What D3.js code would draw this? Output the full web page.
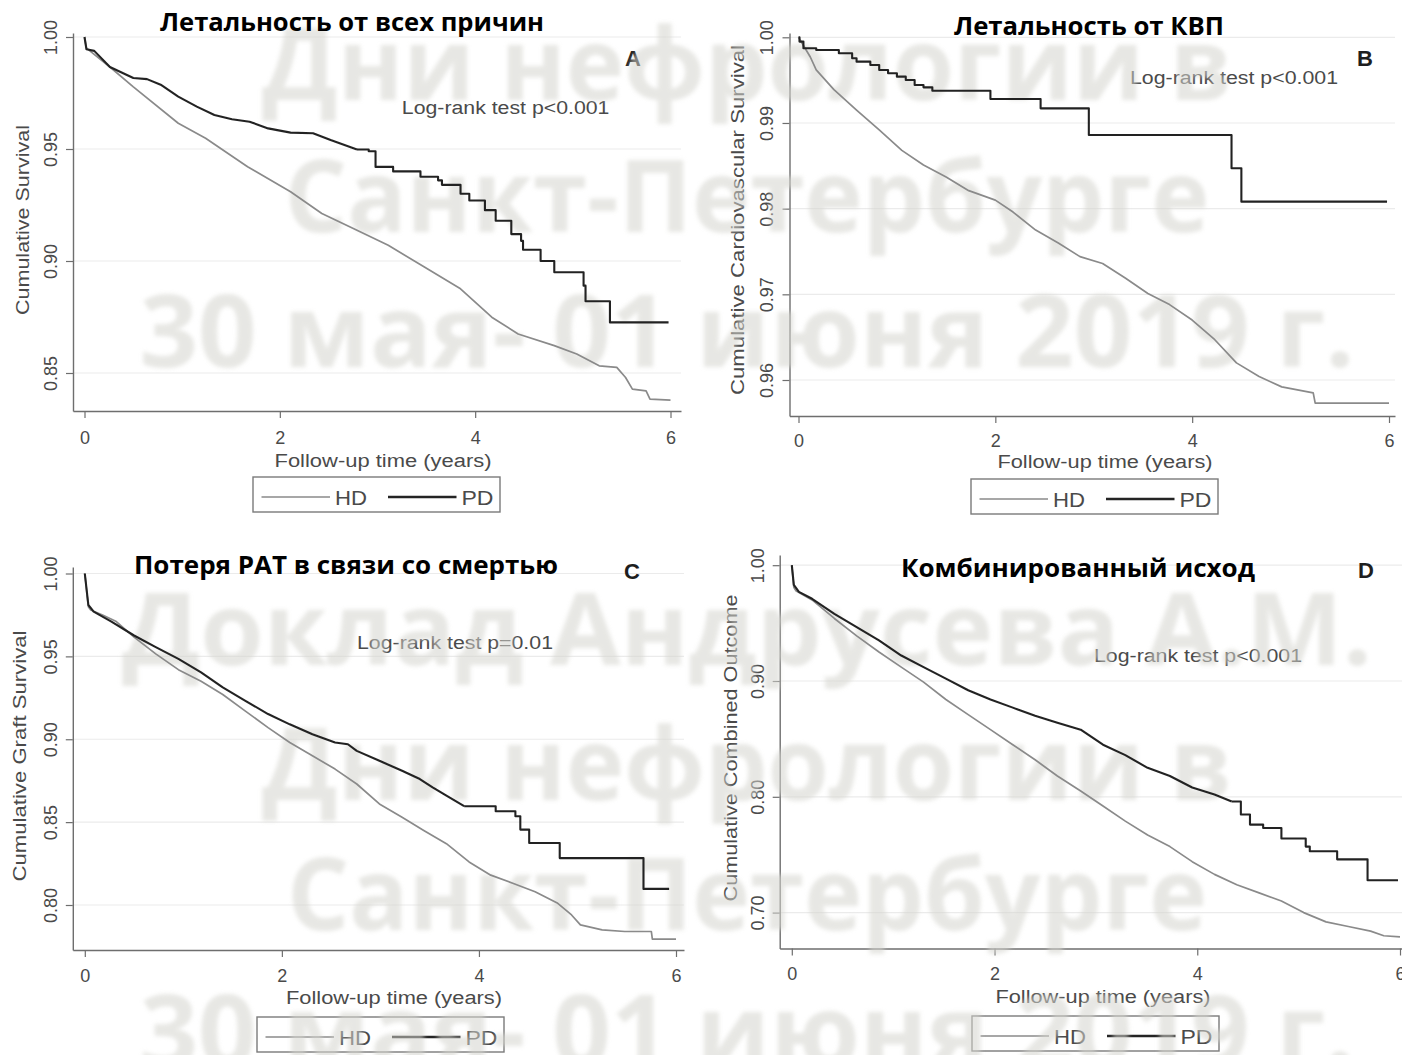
<!DOCTYPE html>
<html lang="ru">
<head>
  <meta charset="UTF-8" />
  <title>Kaplan-Meier HD vs PD</title>
  <style>
    body { margin: 0; background: #fff; }
    #container { width: 1402px; height: 1055px; overflow: hidden; }
    text { font-family: "Liberation Sans", Arial, sans-serif; }
  </style>
</head>
<body>
  <div id="container"></div>
  <script src="https://cdn.jsdelivr.net/npm/d3@7"></script>
  <script>
    // ---- data (years, cumulative survival) ----
    const xTicks = [0, 2, 4, 6];
    const yTicksA = [0.85, 0.90, 0.95, 1.00];
    const yTicksB = [0.96, 0.97, 0.98, 0.99, 1.00];
    const yTicksC = [0.80, 0.85, 0.90, 0.95, 1.00];
    const yTicksD = [0.70, 0.80, 0.90, 1.00];

    const hdA = [[0, 1], [0.02, 0.995], [0.26, 0.9866], [0.5, 0.9777], [0.96, 0.9615], [1.24, 0.9548],
      [1.67, 0.9421], [2.11, 0.9309], [2.43, 0.9212], [2.79, 0.9137], [3.11, 0.907], [3.48, 0.8973],
      [3.85, 0.8876], [4.17, 0.8749], [4.44, 0.8674], [4.81, 0.8622], [5.04, 0.8585], [5.27, 0.8532],
      [5.45, 0.8525], [5.54, 0.848], [5.61, 0.8428], [5.75, 0.842], [5.79, 0.8383], [6.0, 0.8379]];
    const pdA = [[0, 1], [0.02, 0.9945], [0.1, 0.9938], [0.26, 0.9866], [0.5, 0.9817], [0.64, 0.9812],
      [0.78, 0.9787], [0.96, 0.9734], [1.15, 0.9689], [1.33, 0.9652], [1.51, 0.9633], [1.69, 0.9622],
      [1.88, 0.9592], [2.11, 0.9573], [2.34, 0.957], [2.52, 0.954], [2.79, 0.9498]];
    const pdAsteps = [[2.79, 0.9498], [2.91, 0.949], [2.98, 0.942], [3.16, 0.94], [3.44, 0.9376],
      [3.62, 0.936], [3.66, 0.934], [3.85, 0.93], [3.94, 0.927], [4.1, 0.9227], [4.21, 0.918],
      [4.37, 0.912], [4.47, 0.909], [4.49, 0.905], [4.67, 0.9], [4.81, 0.895], [5.11, 0.889],
      [5.13, 0.882], [5.38, 0.8726], [5.98, 0.8726]];

    const hdB = [[0, 1], [0.12, 0.9977], [0.18, 0.9962], [0.36, 0.9939], [0.59, 0.9915], [0.82, 0.9892],
      [1.05, 0.9868], [1.27, 0.9851], [1.5, 0.9837], [1.73, 0.9821], [2.0, 0.981], [2.18, 0.9796],
      [2.41, 0.9775], [2.64, 0.976], [2.86, 0.9744], [3.09, 0.9736], [3.32, 0.9719], [3.55, 0.9701],
      [3.77, 0.9688], [4.0, 0.967], [4.23, 0.9647], [4.45, 0.962], [4.68, 0.9604], [4.91, 0.9592],
      [5.23, 0.9585], [5.25, 0.9573], [6.0, 0.9573]];
    const pdB = [];
    const pdBsteps = [[0, 1], [0.01, 0.9995], [0.05, 0.99872], [0.18, 0.99852], [0.41, 0.99813],
      [0.545, 0.99755], [0.59, 0.99716], [0.73, 0.99677], [0.82, 0.99619], [0.91, 0.9958],
      [1.0, 0.99541], [1.09, 0.99502], [1.18, 0.99444], [1.27, 0.99416], [1.36, 0.99377],
      [1.95, 0.9928], [2.46, 0.99171], [2.95, 0.9886], [4.4, 0.98471], [4.5, 0.98082], [5.98, 0.98082]];

    const hdC = [[0, 1], [0.036, 0.98], [0.06, 0.978], [0.18, 0.975], [0.32, 0.971], [0.5, 0.9616],
      [0.72, 0.9515], [0.95, 0.942], [1.18, 0.935], [1.4, 0.927], [1.63, 0.917], [1.86, 0.907],
      [2.08, 0.898], [2.31, 0.89], [2.54, 0.882], [2.76, 0.873], [2.99, 0.861], [3.22, 0.853],
      [3.44, 0.845], [3.67, 0.837], [3.9, 0.826], [4.12, 0.818], [4.35, 0.813], [4.57, 0.808],
      [4.8, 0.801], [4.94, 0.794], [5.03, 0.788], [5.25, 0.785], [5.48, 0.784], [5.75, 0.784],
      [5.76, 0.7794], [6.0, 0.7794]];
    const pdC = [[0, 1], [0.036, 0.981], [0.09, 0.977], [0.27, 0.971], [0.5, 0.9626], [0.72, 0.9556],
      [0.95, 0.9485], [1.18, 0.9404], [1.4, 0.9313], [1.63, 0.9232], [1.86, 0.9152], [2.08, 0.909],
      [2.31, 0.903], [2.54, 0.898], [2.67, 0.897], [2.76, 0.893], [2.99, 0.887], [3.22, 0.881],
      [3.4, 0.876], [3.53, 0.871], [3.67, 0.866], [3.85, 0.8596]];
    const pdCsteps = [[3.85, 0.8596], [4.17, 0.8566], [4.37, 0.8535], [4.42, 0.8455], [4.51, 0.8374],
      [4.82, 0.8283], [5.67, 0.8097], [5.93, 0.8097]];

    const hdD = [[0, 1], [0.02, 0.981], [0.04, 0.978], [0.2, 0.97], [0.42, 0.954], [0.64, 0.939],
      [0.86, 0.925], [1.08, 0.912], [1.3, 0.899], [1.52, 0.884], [1.74, 0.871], [1.96, 0.858],
      [2.18, 0.845], [2.4, 0.832], [2.62, 0.818], [2.85, 0.805], [3.07, 0.792], [3.29, 0.779],
      [3.51, 0.767], [3.73, 0.757], [3.95, 0.744], [4.17, 0.733], [4.39, 0.724], [4.61, 0.717],
      [4.83, 0.71], [5.05, 0.7], [5.27, 0.692], [5.49, 0.688], [5.71, 0.684], [5.84, 0.68], [6.0, 0.679]];
    const pdD = [[0, 1], [0.02, 0.983], [0.07, 0.977], [0.2, 0.971], [0.42, 0.958], [0.64, 0.9465],
      [0.86, 0.935], [1.08, 0.922], [1.3, 0.912], [1.52, 0.902], [1.74, 0.892], [1.96, 0.884],
      [2.18, 0.877], [2.4, 0.87], [2.62, 0.864], [2.85, 0.858], [3.07, 0.845], [3.29, 0.836],
      [3.51, 0.825], [3.73, 0.818], [3.95, 0.808], [4.17, 0.802], [4.34, 0.796]];
    const pdDsteps = [[4.34, 0.796], [4.43, 0.7847], [4.52, 0.776], [4.65, 0.773], [4.83, 0.764],
      [5.07, 0.757], [5.11, 0.753], [5.38, 0.746], [5.68, 0.728], [5.98, 0.728]];

    const titles = ["Летальность от всех причин", "Летальность от КВП",
      "Потеря РАТ в связи со смертью", "Комбинированный исход"];
    const letters = ["A", "B", "C", "D"];
    const yTitles = ["Cumulative Survival", "Cumulative Cardiovascular Survival",
      "Cumulative Graft Survival", "Cumulative Combined Outcome"];
    const logRank = ["Log-rank test p<0.001", "Log-rank test p<0.001",
      "Log-rank test p=0.01", "Log-rank test p<0.001"];
    const seriesNames = ["HD", "PD"];
    const watermark = ["Дни нефрологии в", "Санкт-Петербурге", "30 мая- 01 июня 2019 г.",
      "Доклад Андрусева А.М.", "Дни нефрологии в", "Санкт-Петербурге", "30 мая- 01 июня 2019 г."];

    const series = [
      { yTicks: yTicksA, hd: hdA, pd: pdA, pdSteps: pdAsteps },
      { yTicks: yTicksB, hd: hdB, pd: pdB, pdSteps: pdBsteps },
      { yTicks: yTicksC, hd: hdC, pd: pdC, pdSteps: pdCsteps },
      { yTicks: yTicksD, hd: hdD, pd: pdD, pdSteps: pdDsteps }
    ];

    // ---- layout (pixels) ----
    const layouts = [
      { x: [84.5, 670.5], yDom: [0.85, 1.00], yRng: [373, 37], left: 73, right: 681, top: 33, bottom: 411,
        xLabY: 444, xTitle: [383, 467, 217], yLabX: 51, yTitle: [23, 220, 190], title: [352, 31, 384],
        letter: [633, 66], logrank: [505.6, 114, 207.6], legend: [253, 477] },
      { x: [798.5, 1389], yDom: [0.96, 1.00], yRng: [380, 37.3], left: 789.5, right: 1395, top: 33, bottom: 416,
        xLabY: 447, xTitle: [1105, 468, 215], yLabX: 767, yTitle: [738, 220, 350], title: [1089, 35, 270],
        letter: [1365, 66], logrank: [1234, 84, 208], legend: [971, 479] },
      { x: [84.8, 676], yDom: [0.80, 1.00], yRng: [905, 573.5], left: 72.8, right: 684, top: 567, bottom: 950,
        xLabY: 982, xTitle: [394, 1004, 216], yLabX: 51, yTitle: [20, 756, 251], title: [346, 574, 424],
        letter: [632, 579], logrank: [455, 649, 196], legend: [257, 1017] },
      { x: [791.8, 1400], yDom: [0.70, 1.00], yRng: [912.6, 565.2], left: 779.7, right: 1410, top: 555, bottom: 948.5,
        xLabY: 980, xTitle: [1103, 1003, 215], yLabX: 758, yTitle: [731, 748, 307], title: [1078, 577, 354],
        letter: [1366, 578], logrank: [1198, 662, 208], legend: [972, 1016] }
    ];
    const wmLayout = [[100, 970], [232, 925], [367, 1215], [665, 1250], [800, 970], [930, 920], [1067, 1215]];

    const hdColor = "#8a8a8a", pdColor = "#242424", axisColor = "#6e6e6e", textColor = "#4a4a4a";

    const svg = d3.select("#container").append("svg")
      .attr("width", 1402).attr("height", 1055);
    const defs = svg.append("defs");
    defs.append("filter").attr("id", "soft")
      .append("feGaussianBlur").attr("stdDeviation", 2);
    defs.append("filter").attr("id", "jpeg")
      .append("feGaussianBlur").attr("stdDeviation", 0.35);

    const base = svg.append("g");
    const wm = svg.append("g");
    const curves = svg.append("g").attr("filter", "url(#jpeg)");
    const heads = svg.append("g");

    series.forEach((p, i) => {
      const L = layouts[i];
      const x = d3.scaleLinear().domain([0, 6]).range(L.x);
      const y = d3.scaleLinear().domain(L.yDom).range(L.yRng);
      const g = base.append("g");

      // grid
      g.selectAll(".grid").data(p.yTicks).enter().append("line")
        .attr("x1", L.left).attr("x2", L.right)
        .attr("y1", d => y(d)).attr("y2", d => y(d))
        .attr("stroke", "#ebebeb").attr("stroke-width", 1.2);

      // axes over the full plot region
      const xa = x.copy().domain([x.invert(L.left), x.invert(L.right)]).range([L.left, L.right]);
      const ya = y.copy().domain([y.invert(L.bottom), y.invert(L.top)]).range([L.bottom, L.top]);

      const gx = g.append("g").attr("transform", `translate(0,${L.bottom})`)
        .call(d3.axisBottom(xa).tickValues(xTicks).tickSize(7).tickSizeOuter(0).tickFormat(d3.format("d")));
      const gy = g.append("g").attr("transform", `translate(${L.left},0)`)
        .call(d3.axisLeft(ya).tickValues(p.yTicks).tickSize(7).tickSizeOuter(0).tickFormat(d3.format(".2f")));

      [gx, gy].forEach(a => {
        a.attr("font-family", null).attr("font-size", null).attr("color", axisColor);
        a.select(".domain").attr("stroke-width", 1.4);
        a.selectAll(".tick line").attr("stroke-width", 1.2);
        a.selectAll("text").attr("fill", textColor).style("font-size", "18px");
      });
      gx.selectAll("text").attr("y", L.xLabY - L.bottom).attr("dy", 0);
      gy.selectAll("text").attr("x", 0).attr("dy", "0.35em").attr("text-anchor", "middle")
        .attr("transform", `translate(${L.yLabX - L.left},0) rotate(-90)`);

      // axis titles
      g.append("text").attr("x", L.xTitle[0]).attr("y", L.xTitle[1])
        .attr("text-anchor", "middle").attr("fill", textColor).style("font-size", "18px")
        .attr("textLength", L.xTitle[2]).attr("lengthAdjust", "spacingAndGlyphs")
        .text("Follow-up time (years)");
      g.append("text").attr("transform", `translate(${L.yTitle[0]},${L.yTitle[1]}) rotate(-90)`)
        .attr("dy", "0.35em").attr("text-anchor", "middle").attr("fill", textColor).style("font-size", "18px")
        .attr("textLength", L.yTitle[2]).attr("lengthAdjust", "spacingAndGlyphs")
        .text(yTitles[i]);

      // annotation and panel letter
      g.append("text").attr("x", L.logrank[0]).attr("y", L.logrank[1])
        .attr("text-anchor", "middle").attr("fill", textColor).style("font-size", "18px")
        .attr("textLength", L.logrank[2]).attr("lengthAdjust", "spacingAndGlyphs")
        .text(logRank[i]);
      g.append("text").attr("x", L.letter[0]).attr("y", L.letter[1])
        .attr("text-anchor", "middle").attr("fill", "#1e1e1e")
        .style("font-size", "22px").style("font-weight", "bold")
        .text(letters[i]);

      // legend
      const lg = g.append("g").attr("transform", `translate(${L.legend[0]},${L.legend[1]})`);
      lg.append("rect").attr("width", 247).attr("height", 35)
        .attr("fill", "#fff").attr("stroke", "#7a7a7a").attr("stroke-width", 1.4);
      seriesNames.forEach((name, k) => {
        lg.append("line").attr("x1", 8.5 + k * 126.5).attr("x2", 77 + k * 126.5)
          .attr("y1", 20).attr("y2", 20)
          .attr("stroke", k === 0 ? hdColor : pdColor).attr("stroke-width", k === 0 ? 1.6 : 2.3);
        lg.append("text").attr("x", 82 + k * 126.5).attr("y", 28)
          .attr("fill", textColor).style("font-size", "21px")
          .attr("textLength", 32).attr("lengthAdjust", "spacingAndGlyphs")
          .text(name);
      });

      // chart title (slide heading, above the watermark)
      heads.append("text").attr("x", L.title[0]).attr("y", L.title[1])
        .attr("text-anchor", "middle").attr("fill", "#000")
        .style("font-family", "'Open Sans', sans-serif").style("font-size", "25px").style("font-weight", "bold")
        .attr("textLength", L.title[2]).attr("lengthAdjust", "spacingAndGlyphs")
        .text(titles[i]);

      // survival curves
      const line = d3.line().x(d => x(d[0])).y(d => y(d[1]));
      const cg = curves.append("g").attr("fill", "none").attr("stroke-linejoin", "round");
      cg.append("path").attr("d", line.curve(d3.curveLinear)(p.hd))
        .attr("stroke", hdColor).attr("stroke-width", 1.7);
      if (p.pd.length) {
        cg.append("path").attr("d", line.curve(d3.curveLinear)(p.pd))
          .attr("stroke", pdColor).attr("stroke-width", 2.1);
      }
      cg.append("path").attr("d", line.curve(d3.curveStepAfter)(p.pdSteps))
        .attr("stroke", pdColor).attr("stroke-width", 2.1);
    });

    // watermark
    wm.attr("filter", "url(#soft)").attr("opacity", 0.55);
    wm.selectAll("text").data(watermark).enter().append("text")
      .attr("x", 747).attr("y", (d, i) => wmLayout[i][0])
      .attr("text-anchor", "middle").attr("fill", "rgb(212,212,206)")
      .style("font-family", "'Open Sans', sans-serif").style("font-size", "100px").style("font-weight", "bold")
      .attr("textLength", (d, i) => wmLayout[i][1]).attr("lengthAdjust", "spacingAndGlyphs")
      .text(d => d);
  </script>
</body>
</html>
